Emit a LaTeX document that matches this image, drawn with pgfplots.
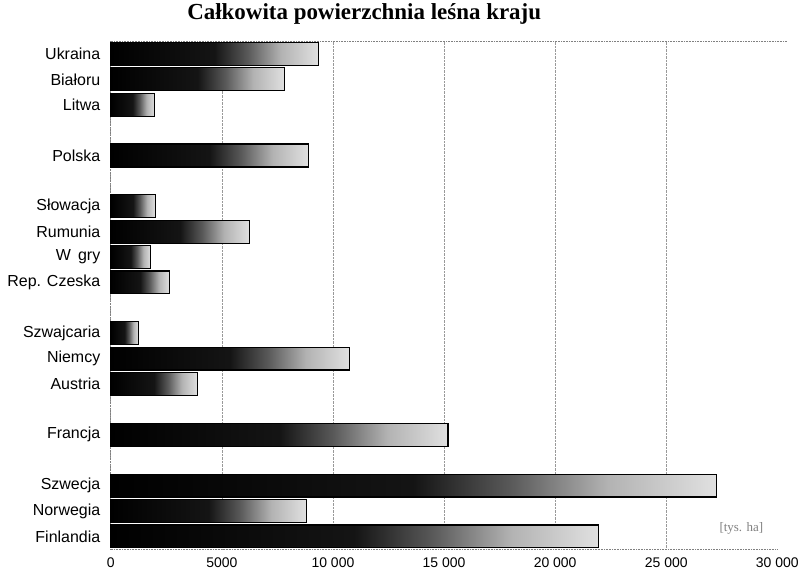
\documentclass[border=0pt]{standalone}
\usepackage{fontspec}
\setmainfont{Liberation Sans}
\newfontfamily\titlefont{Liberation Serif}
\usepackage{pgfplots}
\pgfplotsset{compat=1.18}
\pgfdeclarehorizontalshading{barshade}{100bp}{color(0bp)=(black); color(25bp)=(black); color(50bp)=(black!92); color(58bp)=(black!65); color(66bp)=(black!30); color(75bp)=(black!12); color(100bp)=(black!12)}
\pgfplotsset{mybar/.style={xbar, bar width=0.9, draw=black, line width=1.2pt, shade, shading=barshade, forget plot}}
\begin{document}
\begin{tikzpicture}
\begin{axis}[
  scale only axis,
  width=668pt, height=509pt,
  xmin=0, xmax=30000, ymin=-0.5, ymax=19.5,
  axis x line*=bottom, axis y line*=left,
  axis line style={densely dotted, gray, line width=0.6pt},
  scaled x ticks=false,
  xtick={0,5000,10000,15000,20000,25000},
  xticklabels={0,5000,10 000,15 000,20 000,25 000},
  extra x ticks={30000}, extra x tick labels={30 000},
  extra x tick style={grid=none},
  ytick={0,1,2,4,6,7,8,10,11,12,13,15,17,18,19},
  yticklabels={Finlandia,Norwegia,Szwecja,Francja,Austria,Niemcy,Szwajcaria,Rep. Czeska,W\hspace{0.45em}gry,Rumunia,S\l{}owacja,Polska,Litwa,Bia\l{}oru\hspace{0.5em},Ukraina},
  major tick length=0pt,
  xmajorgrids,
  major grid style={densely dotted, gray!80, line width=0.6pt},
  xticklabel style={font=\fontsize{14}{16}\selectfont, yshift=-5pt},
  yticklabel style={font=\fontsize{16}{18}\selectfont, xshift=-7pt},
  title={Ca\l{}kowita powierzchnia le\'sna kraju},
  title style={font=\titlefont\bfseries\fontsize{23}{26}\selectfont, anchor=base, xshift=-80pt, yshift=16pt},
  clip=false,
]
\addplot[mybar] coordinates {(21960,0)};
\addplot[mybar] coordinates {(8800,1)};
\addplot[mybar] coordinates {(27260,2)};
\addplot[mybar] coordinates {(15180,4)};
\addplot[mybar] coordinates {(3900,6)};
\addplot[mybar] coordinates {(10730,7)};
\addplot[mybar] coordinates {(1250,8)};
\addplot[mybar] coordinates {(2650,10)};
\addplot[mybar] coordinates {(1800,11)};
\addplot[mybar] coordinates {(6240,12)};
\addplot[mybar] coordinates {(2000,13)};
\addplot[mybar] coordinates {(8890,15)};
\addplot[mybar] coordinates {(1980,17)};
\addplot[mybar] coordinates {(7820,18)};
\addplot[mybar] coordinates {(9340,19)};
\draw[densely dotted, gray, line width=0.6pt] (rel axis cs:0,1) -- (rel axis cs:1.015,1);
\node[font=\titlefont\fontsize{13}{14}\selectfont, text=gray] at (axis cs:28380,0.3) {[tys. ha]};
\end{axis}
\path (current axis.south west) ++(-111pt,-29pt) rectangle ([shift={(23pt,41pt)}]current axis.north east);
\end{tikzpicture}
\end{document}
